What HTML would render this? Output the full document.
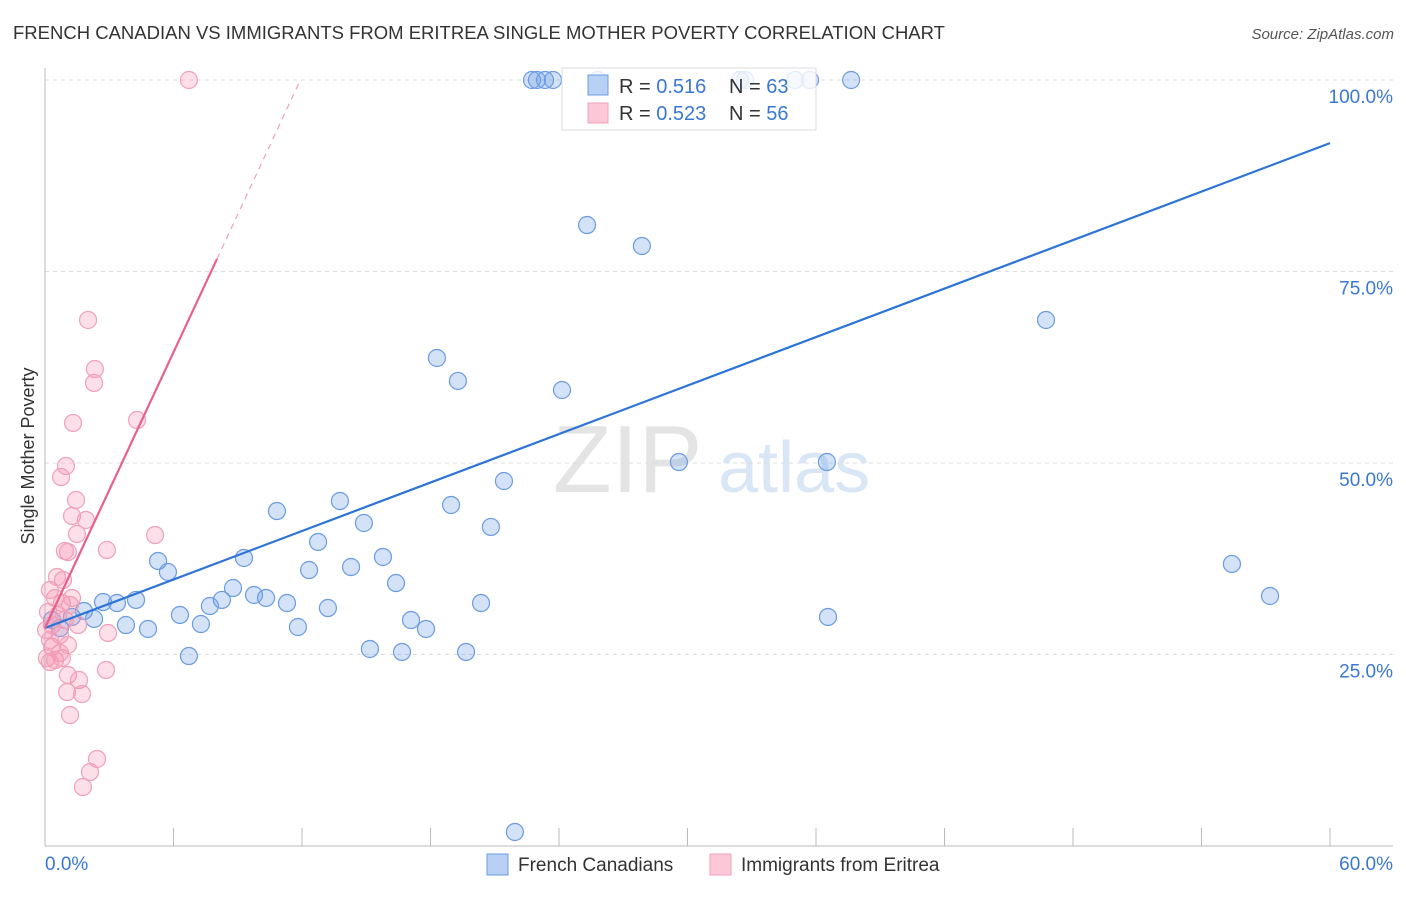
<!DOCTYPE html>
<html><head><meta charset="utf-8"><style>
body{margin:0;background:#fff;font-family:"Liberation Sans",sans-serif;}
svg text{font-family:"Liberation Sans",sans-serif;}
</style></head><body>
<svg id="chart" width="1406" height="892" viewBox="0 0 1406 892" xmlns="http://www.w3.org/2000/svg">
<text x="13" y="39" font-size="18.5" fill="#333">FRENCH CANADIAN VS IMMIGRANTS FROM ERITREA SINGLE MOTHER POVERTY CORRELATION CHART</text>
<text x="1394" y="39" font-size="15" fill="#555" font-style="italic" text-anchor="end">Source: ZipAtlas.com</text>
<g>
<text x="553" y="492" font-size="96" fill="#e4e4e4" font-family="Liberation Serif">ZIP</text>
<text x="718" y="492" font-size="72" fill="#d8e6f6">atlas</text>
</g>
<g id="grid"></g>
<g id="axes"></g>
<g id="marks"></g>
<text transform="translate(34,456) rotate(-90)" font-size="18" fill="#333" text-anchor="middle">Single Mother Poverty</text>
<g>
<rect x="562" y="68" width="254" height="62" fill="rgba(255,255,255,0.8)" stroke="#ddd"/>
<rect x="588" y="75" width="20" height="20" fill="#b8d0f4" stroke="#6b9be0"/>
<rect x="588" y="103" width="20" height="20" fill="#fcc8d8" stroke="#f0a0b8"/>
<text x="619" y="93" font-size="20" fill="#333">R = <tspan fill="#3a78d4">0.516</tspan></text>
<text x="729" y="93" font-size="20" fill="#333">N = <tspan fill="#3a78d4">63</tspan></text>
<text x="619" y="120" font-size="20" fill="#333">R = <tspan fill="#3a78d4">0.523</tspan></text>
<text x="729" y="120" font-size="20" fill="#333">N = <tspan fill="#3a78d4">56</tspan></text>
</g>
<g>
<rect x="487" y="854" width="21" height="21" fill="#b8d0f4" stroke="#6b9be0"/>
<text x="518" y="871" font-size="19" fill="#333">French Canadians</text>
<rect x="710" y="854" width="21" height="21" fill="#fcc8d8" stroke="#f0a0b8"/>
<text x="741" y="871" font-size="19" fill="#333">Immigrants from Eritrea</text>
</g>
</svg>
<script>
const blueX=[22.74,22.97,23.35,23.72,25.82,32.45,32.69,35.02,35.72,37.64,25.31,27.87,46.74,18.30,19.28,24.14,29.60,36.51,21.43,18.96,20.82,10.83,13.77,14.89,12.75,9.29,15.78,5.28,5.74,12.33,14.29,16.39,8.78,9.76,10.32,8.26,7.70,4.25,2.71,3.36,11.30,13.21,6.30,1.82,1.26,2.29,3.78,4.81,7.28,17.09,17.79,20.36,11.81,36.56,55.42,57.20,6.72,15.17,16.67,19.66,21.94,0.33,0.70];
const blueY=[100,100,100,100,100,100,100,100,100,100,81.07,78.33,68.67,63.71,60.71,59.53,50.13,50.13,47.65,44.52,41.65,43.73,45.04,42.17,39.69,37.60,37.73,37.21,35.77,36.03,36.42,34.33,33.68,32.77,32.38,32.12,31.33,32.12,31.85,31.72,31.72,31.07,30.16,30.68,29.90,29.64,28.85,28.33,28.98,29.50,28.33,31.72,28.59,29.90,36.82,32.64,24.80,25.72,25.33,25.33,1.83,29.50,28.46];
const pinkX=[6.72,2.01,2.33,2.29,1.31,4.30,0.98,0.75,1.45,1.26,1.91,1.49,5.14,0.93,1.07,2.89,0.56,0.84,2.94,1.54,0.33,0.70,0.23,2.85,1.07,1.59,1.03,1.73,1.17,2.43,2.10,1.77,0.23,0.47,0.79,1.17,0.14,0.61,0.93,0.33,1.26,0.05,0.70,0.23,1.07,0.09,0.47,0.79];
const pinkY=[100,68.67,62.27,60.45,55.23,55.61,49.61,48.17,45.17,43.08,42.56,40.73,40.60,38.51,38.38,38.64,35.12,34.73,27.81,28.85,25.98,25.20,24.02,22.98,22.32,21.67,20.10,19.84,17.10,11.36,9.66,7.70,33.42,32.38,31.72,31.46,30.55,30.16,29.50,28.85,32.38,28.20,27.55,26.89,26.24,24.54,24.28,24.54];
const blueTrend=[28.46,1.055];   // intercept, slope
const pinkTrend=[28.46,6.0];
const pinkSolidEnd=8.03;
const yTicks=[25,50,75,100];
const yTickLabels=["25.0%","50.0%","75.0%","100.0%"];
const xTicks=[6,12,18,24,30,36,42,48,54,60];

const NS="http://www.w3.org/2000/svg";
const X=v=>45+v/60*1285;
const Y=v=>846-v/100*766;
function mk(tag,attrs,parent){const e=document.createElementNS(NS,tag);for(const k in attrs)e.setAttribute(k,attrs[k]);parent.appendChild(e);return e;}
const grid=document.getElementById('grid'),axes=document.getElementById('axes'),marks=document.getElementById('marks');
yTicks.forEach((t,i)=>{
 const l=mk('line',{x1:45,x2:1393,y1:Y(t),y2:Y(t),stroke:'#ddd','stroke-dasharray':'4,4'},grid);
 
 
 const tx=mk('text',{x:1393,y:Y(t)+23,'font-size':19,fill:'#3a78d4','text-anchor':'end'},axes);
 tx.textContent=yTickLabels[i];
 
 
});
const ya=mk('line',{x1:45,x2:45,y1:68,y2:846,stroke:'#bbb'},axes);


const xa=mk('line',{x1:45,x2:1393,y1:846,y2:846,stroke:'#bbb'},axes);


xTicks.forEach(t=>{const l=mk('line',{x1:X(t),x2:X(t),y1:828,y2:846,stroke:'#bbb'},axes);
 
 });
const x0=mk('text',{x:45,y:870,'font-size':19,fill:'#3a78d4'},axes);x0.textContent="0.0%";


const x1=mk('text',{x:1393,y:870,'font-size':19,fill:'#3a78d4','text-anchor':'end'},axes);x1.textContent="60.0%";



blueX.forEach((v,i)=>{const c=mk('circle',{cx:X(v),cy:Y(blueY[i]),r:8.5,fill:'rgba(110,160,230,0.3)',stroke:'#6b9be0','stroke-width':1.2},marks);
 
 });
pinkX.forEach((v,i)=>{const c=mk('circle',{cx:X(v),cy:Y(pinkY[i]),r:8.5,fill:'rgba(245,150,180,0.3)',stroke:'#f0a0b8','stroke-width':1.2},marks);
 
 });

const bl=mk('line',{x1:X(0),y1:Y(blueTrend[0]),x2:X(60),y2:Y(blueTrend[0]+blueTrend[1]*60),stroke:'#2c74d6','stroke-width':2.2},marks);


const pl=mk('line',{x1:X(0),y1:Y(pinkTrend[0]),x2:X(pinkSolidEnd),y2:Y(pinkTrend[0]+pinkTrend[1]*pinkSolidEnd),stroke:'#e8608e','stroke-width':2.2},marks);


const xEnd=(100-pinkTrend[0])/pinkTrend[1];
const pd=mk('line',{x1:X(pinkSolidEnd),y1:Y(pinkTrend[0]+pinkTrend[1]*pinkSolidEnd),x2:X(xEnd),y2:Y(100),stroke:'#f0a0b8','stroke-width':1.2,'stroke-dasharray':'6,5'},marks);


</script>
</body></html>
